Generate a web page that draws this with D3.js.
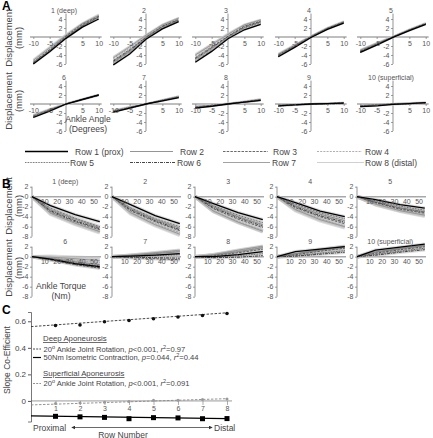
<!DOCTYPE html>
<html><head><meta charset="utf-8">
<script src="https://cdn.jsdelivr.net/npm/d3@7"></script>
<style>
body{margin:0;background:#fff;}
svg{display:block;font-family:"Liberation Sans",Arial,sans-serif;}
</style></head><body>
<svg id="c" width="433" height="438"></svg>
<script>
// ---------------- DATA ----------------
const rowNames = ["Row 1 (prox)","Row 2","Row 3","Row 4","Row 5","Row 6","Row 7","Row 8 (distal)"];
const panelTitles = ["1 (deep)","2","3","4","5","6","7","8","9","10 (superficial)"];

// Panel A: displacement (mm) vs ankle angle (degrees), one row per line
const angleX = [-10,-5,0,5,10];
const angleTicks = [-10,-5,5,10];
const dispTicksA = [-6,-4,-2,2,4];
const angleP1 = [[-6.0,-3.3,-0.3,2.2,4.0],[-5.8,-3.0,0,2.6,4.4],[-5.6,-2.8,0.2,2.8,4.6],[-5.4,-2.6,0.3,2.9,4.8],[-5.9,-3.1,-0.1,2.4,4.3],[-5.7,-3.0,0,2.5,4.5],[-5.2,-2.4,0.4,3.0,4.8],[-5.0,-2.2,0.6,3.1,5.0]];
const angleP2 = [[-6.2,-3.8,-0.5,1.8,3.4],[-5.6,-3.2,-0.2,2.2,3.7],[-5.2,-2.8,0,2.4,3.9],[-4.8,-2.5,0.2,2.6,4.1],[-5.8,-3.4,-0.3,2.0,3.6],[-5.4,-3.0,-0.1,2.3,3.8],[-4.6,-2.2,0.4,2.7,4.2],[-4.4,-2.0,0.5,2.8,4.3]];
const angleP3 = [[-5.6,-3.2,-0.4,1.6,2.8],[-5.0,-2.6,0,2.1,3.3],[-4.6,-2.2,0.2,2.4,3.5],[-4.2,-1.9,0.5,2.6,3.7],[-5.3,-2.9,-0.2,1.9,3.1],[-4.8,-2.4,0.1,2.2,3.4],[-4.0,-1.7,0.6,2.7,3.8],[-3.8,-1.5,0.8,2.8,3.9]];
const angleP4 = [[-4.4,-2.3,-0.1,1.7,3.1],[-4.2,-2.1,0,1.8,3.2],[-4.0,-2.0,0.1,1.9,3.3],[-3.9,-1.9,0.1,1.9,3.4],[-4.3,-2.2,0,1.8,3.2],[-4.1,-2.0,0,1.9,3.3],[-3.8,-1.8,0.2,2.0,3.4],[-3.7,-1.7,0.2,2.0,3.5]];
const angleP5 = [[-3.4,-1.8,-0.1,1.4,2.8],[-3.3,-1.7,0,1.5,2.9],[-3.1,-1.6,0,1.6,3.0],[-3.0,-1.5,0.1,1.6,3.0],[-3.4,-1.7,0,1.5,2.9],[-3.2,-1.6,0,1.5,2.9],[-2.9,-1.4,0.1,1.6,3.0],[-2.8,-1.3,0.1,1.7,3.1]];
const angleP6 = [[-3.0,-1.6,0,1.0,2.0],[-2.8,-1.4,0,1.0,2.0],[-2.7,-1.3,0,1.0,2.0],[-2.6,-1.2,0,1.0,2.0],[-2.9,-1.5,0,1.0,2.0],[-2.8,-1.4,0,1.0,1.9],[-2.5,-1.2,0,1.0,2.0],[-2.4,-1.1,0.1,1.1,2.1]];
const angleP7 = [[-1.8,-0.9,0,0.7,1.4],[-1.7,-0.9,0,0.8,1.5],[-1.6,-0.8,0,0.8,1.6],[-1.5,-0.7,0,0.8,1.6],[-1.8,-0.9,0,0.7,1.5],[-1.7,-0.8,0,0.8,1.5],[-1.5,-0.7,0,0.9,1.7],[-1.4,-0.6,0,0.9,1.7]];
const angleP8 = [[-0.9,-0.5,0,0.4,0.8],[-0.8,-0.4,0,0.4,0.9],[-0.7,-0.3,0,0.5,1.0],[-0.6,-0.3,0,0.5,1.0],[-0.9,-0.4,0,0.4,0.8],[-0.8,-0.4,0,0.4,0.9],[-0.6,-0.3,0.1,0.5,1.0],[-0.5,-0.2,0.1,0.6,1.1]];
const angleP9 = [[-0.4,-0.2,0,0.1,0.2],[-0.3,-0.2,0,0.1,0.2],[-0.3,-0.1,0,0.1,0.3],[-0.2,-0.1,0,0.1,0.2],[-0.5,-0.2,0,0.1,0.1],[-0.4,-0.2,0,0.0,0.1],[-0.2,-0.1,0,0.1,0.3],[-0.1,0,0,0.1,0.3]];
const angleP10 = [[-0.6,-0.4,-0.1,0.1,0.3],[-0.5,-0.3,0,0.1,0.2],[-0.4,-0.2,0,0.1,0.3],[-0.3,-0.1,0,0.1,0.3],[-0.6,-0.3,-0.1,0,0.2],[-0.5,-0.3,0,0.1,0.2],[-0.3,-0.1,0,0.2,0.3],[-0.2,0,0,0.2,0.4]];
const anglePanels = [angleP1,angleP2,angleP3,angleP4,angleP5,angleP6,angleP7,angleP8,angleP9,angleP10];

// Panel B: displacement (mm) vs ankle torque (Nm)
const torqueX = [0,15,35,55];
const torqueTicks = [10,20,30,40,50];
const dispTicksB = [2,0,-2,-4,-6,-8];
const torqueP1 = [[0,-1.8,-3.6,-5.0],[0,-2.6,-4.5,-6.2],[0,-3.0,-5.0,-6.6],[0,-3.2,-5.2,-6.9],[0,-2.3,-4.3,-6.0],[0,-2.8,-4.8,-6.4],[0,-3.3,-5.3,-7.0],[0,-3.5,-5.5,-7.2]];
const torqueP2 = [[0,-1.6,-3.8,-5.4],[0,-2.4,-4.6,-6.3],[0,-2.8,-5.0,-6.8],[0,-3.1,-5.4,-7.2],[0,-2.2,-4.4,-6.0],[0,-2.6,-4.8,-6.6],[0,-3.2,-5.6,-7.5],[0,-3.4,-5.8,-7.7]];
const torqueP3 = [[0,-1.4,-3.2,-4.6],[0,-2.0,-4.0,-5.6],[0,-2.4,-4.5,-6.2],[0,-2.8,-5.0,-6.8],[0,-1.8,-3.7,-5.2],[0,-2.2,-4.2,-5.9],[0,-2.9,-5.1,-6.9],[0,-3.0,-5.2,-7.0]];
const torqueP4 = [[0,-1.2,-2.9,-4.0],[0,-1.8,-3.5,-4.8],[0,-2.2,-4.0,-5.4],[0,-2.5,-4.4,-5.9],[0,-1.5,-3.2,-4.4],[0,-2.0,-3.8,-5.1],[0,-2.6,-4.6,-6.0],[0,-2.8,-4.8,-6.2]];
const torqueP5 = [[0,-0.6,-1.6,-2.3],[0,-1.0,-2.2,-3.0],[0,-1.2,-2.5,-3.3],[0,-1.4,-2.7,-3.6],[0,-0.8,-1.9,-2.7],[0,-1.1,-2.3,-3.1],[0,-1.5,-2.8,-3.7],[0,-1.6,-2.9,-3.9]];
const torqueP6 = [[0,-0.5,-1.4,-2.0],[0,-0.3,-1.0,-1.6],[0,-0.6,-1.6,-2.3],[0,-0.2,-0.7,-1.2],[0,-0.4,-1.2,-1.8],[0,-0.6,-1.5,-2.2],[0,-0.1,-0.4,-0.8],[0,0.1,-0.1,-0.3]];
const torqueP7 = [[0,0.1,0.3,0.6],[0,0.2,0.6,1.0],[0,-0.2,-0.4,-0.6],[0,0.3,0.7,1.2],[0,0.0,0.2,0.4],[0,-0.1,-0.2,-0.3],[0,0.3,0.8,1.3],[0,0.2,0.5,0.8]];
const torqueP8 = [[0,0.0,0.4,1.0],[0,0.3,1.0,1.8],[0,0.2,0.8,1.5],[0,0.4,1.2,2.0],[0,-0.1,0.2,0.6],[0,-0.2,-0.1,0.2],[0,0.4,1.3,2.1],[0,0.3,1.1,1.9]];
const torqueP9 = [[0,1.0,1.5,2.0],[0,0.6,1.3,1.9],[0,0.4,1.1,1.7],[0,0.5,1.2,1.8],[0,0.2,0.7,1.2],[0,0.1,0.5,0.9],[0,0.6,1.4,2.1],[0,0.3,0.9,1.5]];
const torqueP10 = [[0,1.3,1.9,2.5],[0,0.9,1.6,2.2],[0,0.7,1.4,2.0],[0,0.8,1.5,2.1],[0,0.5,1.1,1.7],[0,0.3,0.9,1.4],[0,1.0,1.7,2.3],[0,0.6,1.3,1.9]];
const torquePanels = [torqueP1,torqueP2,torqueP3,torqueP4,torqueP5,torqueP6,torqueP7,torqueP8,torqueP9,torqueP10];

// Panel C: slope co-efficient vs row number
const rowNumbers = [1,2,3,4,5,6,7,8];
const deepRotation = [0.568,0.572,0.596,0.606,0.619,0.632,0.644,0.659];
const deepIsometric = [-0.116,-0.12,-0.124,-0.134,-0.126,-0.128,-0.134,-0.133];
const superRotation = [-0.02,-0.015,-0.01,-0.005,0.005,0.005,0.01,0.015];
const fitRows = [0,8];
const deepRotationFit = [0.56,0.664];
const deepIsometricFit = [-0.112,-0.134];
const superRotationFit = [-0.03,0.017];
const slopeTicks = [0,0.2,0.4,0.6];

// ---------------- STYLE / LAYOUT ----------------
const rowStyles = [
  {c:"#000", w:1.3, d:null},
  {c:"#7a7a7a", w:0.8, d:null},
  {c:"#444", w:0.8, d:"2.5,1.2"},
  {c:"#9a9a9a", w:0.8, d:"2,1.2"},
  {c:"#333", w:0.8, d:"0.8,0.8"},
  {c:"#333", w:0.9, d:"3,1,1,1"},
  {c:"#8a8a8a", w:0.8, d:null},
  {c:"#c4c4c4", w:0.8, d:null}
];
const axA = [66,146,228,311,393], rowA = [37,104];
const axB = [32,112,195,277,357], rowB = [196.7,256.7];
const TICK = "#555";

const svg = d3.select("#c");
const hy = d => String(d);

function styleAxis(g, fs){
  g.selectAll(".domain").remove();
  g.selectAll(".tick line").attr("stroke","#777").attr("stroke-width",0.7);
  g.selectAll(".tick text").attr("fill",TICK).style("font-size",fs+"px").style("font-family","Liberation Sans, Arial, sans-serif");
}

function drawRows(g, xs, rows, x, y, halo, haloCol){
  const line = d3.line().x((d,i)=>x(xs[i])).y(d=>y(d));
  const order = [7,6,5,4,3,2,1,0];
  if(halo){
    order.forEach(r=>{
      g.append("path").attr("d",line(rows[r])).attr("fill","none")
        .attr("stroke",haloCol).attr("stroke-width",halo).attr("stroke-opacity",0.55);
    });
  }
  order.forEach(r=>{
    const s = rowStyles[r];
    g.append("path").attr("d",line(rows[r])).attr("fill","none")
      .attr("stroke",s.c).attr("stroke-width",s.w).attr("stroke-dasharray",s.d);
  });
}

// ---------------- PANEL A ----------------
anglePanels.forEach((rows,k)=>{
  const cx = axA[k%5], cy = rowA[Math.floor(k/5)];
  const x = d3.scaleLinear().domain([-10,10]).range([cx-32.7,cx+32.7]);
  const y = d3.scaleLinear().domain([-6,6]).range([cy+27,cy-27]);
  const g = svg.append("g");
  g.append("line").attr("x1",x(-11)).attr("x2",x(10.9)).attr("y1",y(0)).attr("y2",y(0))
    .attr("stroke","#a8a8a8").attr("stroke-width",1.4);
  g.append("line").attr("x1",x(0)).attr("x2",x(0)).attr("y1",y(5.2)).attr("y2",y(-6))
    .attr("stroke","#666").attr("stroke-width",0.7);
  drawRows(g, angleX, rows, x, y, 2.0, "#d0d0d0");
  const xa = g.append("g").attr("transform",`translate(0,${y(0)})`)
    .call(d3.axisBottom(x).tickValues(angleTicks).tickSize(2).tickPadding(2).tickFormat(hy));
  styleAxis(xa,7);
  const ya = g.append("g").attr("transform",`translate(${x(0)},0)`)
    .call(d3.axisLeft(y).tickValues(dispTicksA).tickSize(2).tickPadding(1.5).tickFormat(hy));
  styleAxis(ya,7);
  g.append("text").attr("x",x(0)-2).attr("y",y(6)+2.5).attr("text-anchor","middle")
    .attr("fill",TICK).style("font-size","7px").text(panelTitles[k]);
});

// ---------------- PANEL B ----------------
torquePanels.forEach((rows,k)=>{
  const ax = axB[k%5], cy = rowB[Math.floor(k/5)];
  const x = d3.scaleLinear().domain([0,56]).range([ax,ax+69]);
  const y = d3.scaleLinear().domain([-8,2]).range([cy+40,cy-10]);
  const g = svg.append("g");
  g.append("line").attr("x1",x(0)).attr("x2",x(56)).attr("y1",y(0)).attr("y2",y(0))
    .attr("stroke","#a8a8a8").attr("stroke-width",1.4);
  g.append("line").attr("x1",x(0)).attr("x2",x(0)).attr("y1",y(2)).attr("y2",y(-8))
    .attr("stroke","#666").attr("stroke-width",0.7);
  drawRows(g, torqueX, rows, x, y, 3.6, "#c0c0c0");
  const xa = g.append("g").attr("transform",`translate(0,${y(0)})`)
    .call(d3.axisBottom(x).tickValues(torqueTicks).tickSize(0).tickPadding(2).tickFormat(hy));
  styleAxis(xa,7);
  const ya = g.append("g").attr("transform",`translate(${x(0)},0)`)
    .call(d3.axisLeft(y).tickValues(dispTicksB).tickSize(2).tickPadding(1.5).tickFormat(hy));
  styleAxis(ya,7);
  g.append("text").attr("x",x(27)).attr("y",y(2)-2.5).attr("text-anchor","middle")
    .attr("fill",TICK).style("font-size","7px").text(panelTitles[k]);
});

// ---------------- AXIS TITLES A/B ----------------
function vLabel(cy){
  const t = svg.append("text").attr("transform",`translate(12,${cy}) rotate(-90)`)
    .attr("text-anchor","middle").attr("fill","#444").style("font-size","9.5px");
  t.append("tspan").attr("x",0).attr("y",0).text("Displacement");
  t.append("tspan").attr("x",0).attr("y",10).text("(mm)");
}
[38,101,206,268].forEach(vLabel);
function hLabel(cx,y1,a,b){
  const t = svg.append("text").attr("text-anchor","middle").attr("fill","#444").style("font-size","8.6px");
  t.append("tspan").attr("x",cx).attr("y",y1).text(a);
  t.append("tspan").attr("x",cx).attr("y",y1+10).text(b);
}
hLabel(88,121.5,"Ankle Angle","(Degrees)");
hLabel(61,288.5,"Ankle Torque","(Nm)");

// ---------------- LEGEND (rows) ----------------
const legX = [[25,68,75],[130,173,180],[223,268,273],[317,362,365]];
const legY = [151.5,162.5];
const legTextX2 = [[75,180,273,365],[70,177,272,365]];
rowNames.forEach((name,i)=>{
  const col = i%4, r = Math.floor(i/4), s = rowStyles[i];
  const yy = legY[r];
  svg.append("line").attr("x1",legX[col][0]).attr("x2",legX[col][1]+(r?2:0)).attr("y1",yy).attr("y2",yy)
    .attr("stroke",s.c).attr("stroke-width",s.w).attr("stroke-dasharray",s.d);
  svg.append("text").attr("x",legTextX2[r][col]).attr("y",yy+3).attr("fill","#444")
    .style("font-size","8.5px").text(name);
});

// ---------------- PANEL C ----------------
const xC = d3.scaleLinear().domain([0,8]).range([31,227]);
const yC = d3.scaleLinear().domain([-0.155,0.67]).range([421.5,312]);
const gC = svg.append("g");
gC.append("line").attr("x1",xC(0)).attr("x2",232).attr("y1",yC(0)).attr("y2",yC(0))
  .attr("stroke","#9a9a9a").attr("stroke-width",1);
const xaC = gC.append("g").attr("transform",`translate(0,${yC(0)})`)
  .call(d3.axisBottom(xC).tickValues(rowNumbers).tickSize(4).tickPadding(1).tickFormat(hy));
styleAxis(xaC,7);
xaC.selectAll(".tick line").attr("stroke","#888");
const yaC = gC.append("g").attr("transform",`translate(${xC(0)},0)`)
  .call(d3.axisLeft(yC).tickValues(slopeTicks).tickSize(3).tickPadding(2).tickFormat(d=>d===0?"0":d.toFixed(1)));
yaC.select(".domain").attr("stroke","#555").attr("stroke-width",0.8);
yaC.selectAll(".tick line").attr("stroke","#555");
yaC.selectAll(".tick text").attr("fill","#444").style("font-size","8px");

const fitLine = arr => d3.line().x((d,i)=>xC(fitRows[i])).y(d=>yC(d))(arr);
gC.append("path").attr("d",fitLine(deepRotationFit)).attr("fill","none").attr("stroke","#333").attr("stroke-width",0.9).attr("stroke-dasharray","2.5,1.5");
gC.append("path").attr("d",fitLine(superRotationFit)).attr("fill","none").attr("stroke","#888").attr("stroke-width",0.9).attr("stroke-dasharray","2.5,1.5");
gC.append("path").attr("d",fitLine(deepIsometricFit)).attr("fill","none").attr("stroke","#000").attr("stroke-width",1.2);

gC.selectAll("circle.dr").data(deepRotation).enter().append("circle")
  .attr("cx",(d,i)=>xC(rowNumbers[i])).attr("cy",d=>yC(d)).attr("r",1.8).attr("fill","#111");
gC.selectAll("circle.sr").data(superRotation).enter().append("circle")
  .attr("cx",(d,i)=>xC(rowNumbers[i])).attr("cy",d=>yC(d)).attr("r",1.5).attr("fill","#999");
gC.selectAll("rect.di").data(deepIsometric).enter().append("rect")
  .attr("x",(d,i)=>xC(rowNumbers[i])-2.5).attr("y",d=>yC(d)-2.5).attr("width",5).attr("height",5).attr("fill","#000");

// legend C
function legLine(y, col, dash, w, items){
  svg.append("line").attr("x1",33).attr("x2",41).attr("y1",y).attr("y2",y)
    .attr("stroke",col).attr("stroke-width",w).attr("stroke-dasharray",dash);
  const t = svg.append("text").attr("x",43.5).attr("y",y+2.7).attr("fill","#444").style("font-size","7.6px");
  items.forEach(it=>{
    const s = t.append("tspan").text(it.t);
    if(it.i) s.style("font-style","italic");
    if(it.sup) s.attr("dy",-2.8).style("font-size","5.5px");
    if(it.down) s.attr("dy",2.8);
  });
}
const headC = (y,txt)=>svg.append("text").attr("x",43).attr("y",y).attr("fill","#444")
  .style("font-size","7.8px").style("text-decoration","underline").text(txt);
headC(341,"Deep Aponeurosis");
legLine(349,"#333","2,1.2",0.9,[{t:"20"},{t:"o",sup:1},{t:" Ankle Joint Rotation, ",down:1},{t:"p",i:1},{t:"<0.001, "},{t:"r",i:1},{t:"2",sup:1},{t:"=0.97",down:1}]);
legLine(357.5,"#000",null,1.2,[{t:"50Nm Isometric Contraction, "},{t:"p",i:1},{t:"=0.044, "},{t:"r",i:1},{t:"2",sup:1},{t:"=0.44",down:1}]);
headC(376,"Superficial Aponeurosis");
legLine(383.5,"#888","2,1.2",0.9,[{t:"20"},{t:"o",sup:1},{t:" Ankle Joint Rotation, ",down:1},{t:"p",i:1},{t:"<0.001, "},{t:"r",i:1},{t:"2",sup:1},{t:"=0.091",down:1}]);

// bottom row-number arrow
svg.append("defs").html('<marker id="ah" viewBox="0 0 6 6" refX="5" refY="3" markerWidth="5" markerHeight="5" orient="auto-start-reverse"><path d="M0,0L6,3L0,6Z" fill="#333"/></marker>');
svg.append("line").attr("x1",72).attr("x2",212).attr("y1",427.5).attr("y2",427.5)
  .attr("stroke","#444").attr("stroke-width",0.8).attr("marker-start","url(#ah)").attr("marker-end","url(#ah)");
svg.append("text").attr("x",33).attr("y",430.5).attr("fill","#444").style("font-size","8.5px").text("Proximal");
svg.append("text").attr("x",214).attr("y",430.5).attr("fill","#444").style("font-size","8.5px").text("Distal");
svg.append("text").attr("x",123).attr("y",437.5).attr("text-anchor","middle").attr("fill","#444").style("font-size","8.5px").text("Row Number");
svg.append("text").attr("transform","translate(10,360) rotate(-90)").attr("text-anchor","middle")
  .attr("fill","#444").style("font-size","8.5px").text("Slope Co-Efficient");

// panel letters
[["A",10],["B",188],["C",314]].forEach(([l,y])=>{
  svg.append("text").attr("x",2).attr("y",y).attr("fill","#000").style("font-size","12px").style("font-weight","bold").text(l);
});
</script></body></html>
